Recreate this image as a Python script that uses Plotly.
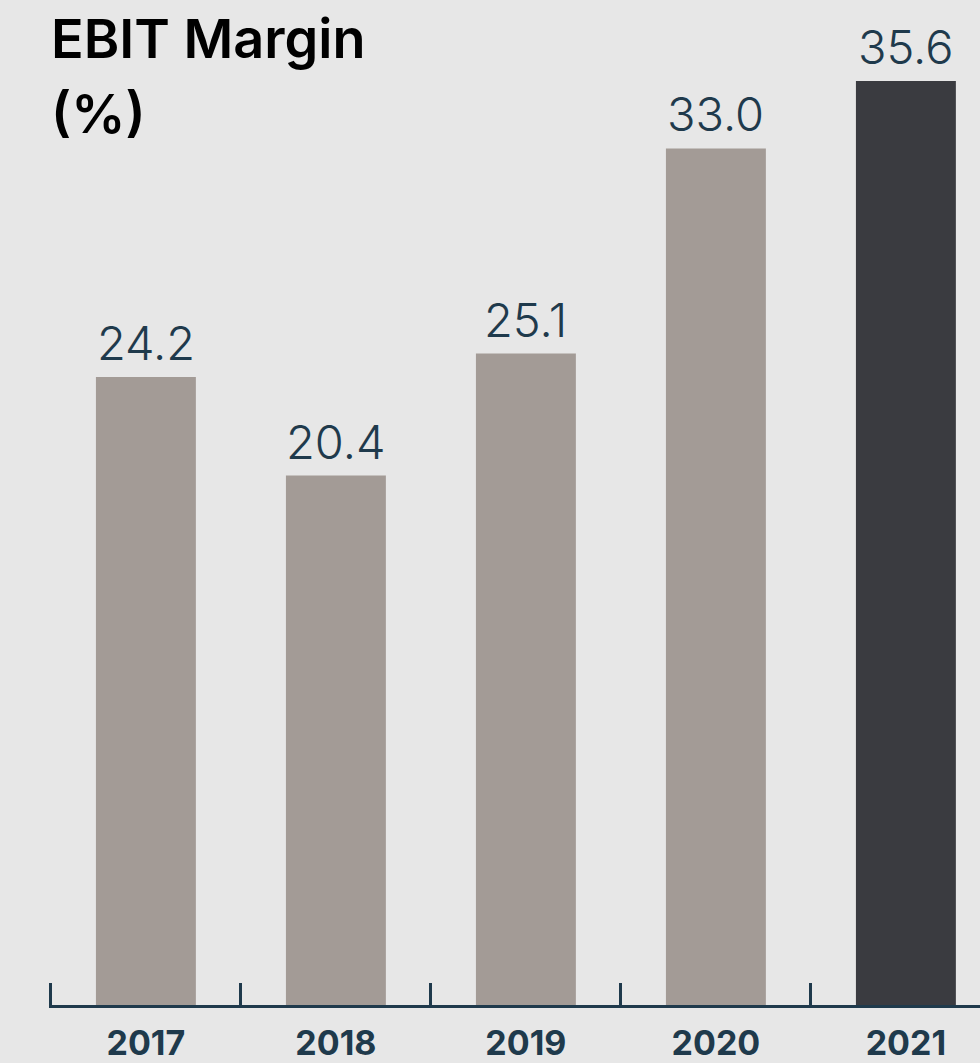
import plotly.graph_objects as go

# EBIT margin by fiscal year, in percent
years = ["2017", "2018", "2019", "2020", "2021"]
ebit_margin = [24.2, 20.4, 25.1, 33.0, 35.6]

BG = "#e7e7e7"
BAR = "#a39b96"
BAR_LATEST = "#3a3b40"
INK = "#1f3a4c"

colors = [BAR] * (len(years) - 1) + [BAR_LATEST]

fig = go.Figure()
fig.add_trace(go.Bar(
    x=years,
    y=ebit_margin,
    marker=dict(color=colors, line=dict(width=0)),
    hoverinfo="skip",
))

# value labels above each bar (category index used as x position)
for i, v in enumerate(ebit_margin):
    fig.add_annotation(
        x=i, y=v, xref="x", yref="y", text=f"{v:.1f}",
        showarrow=False, yanchor="bottom", yshift=4,
        font=dict(family="Inter, Roboto, sans-serif", size=47, color=INK, weight=300),
    )

# chart title, two lines
fig.add_annotation(
    xref="paper", yref="paper", x=0, y=1, xanchor="left", yanchor="top",
    text="EBIT Margin", align="left", showarrow=False, yshift=-4,
    font=dict(family="Inter, Roboto, sans-serif", size=54, color="#000000", weight=600),
)
fig.add_annotation(
    xref="paper", yref="paper", x=0, y=1, xanchor="left", yanchor="top",
    text="(%)", align="left", showarrow=False, yshift=-79,
    font=dict(family="Inter, Roboto, sans-serif", size=54, color="#000000", weight=600),
)

fig.update_layout(
    width=980, height=1063,
    paper_bgcolor=BG, plot_bgcolor=BG,
    margin=dict(l=49, r=0, t=0, b=56),
    bargap=0.474,
    showlegend=False,
    xaxis=dict(
        type="category",
        range=[-0.51, 4.39],
        showline=True, linewidth=3, linecolor=INK,
        ticks="inside", tickson="boundaries", ticklen=22, tickwidth=3, tickcolor=INK,
        tickfont=dict(family="Inter, Roboto, sans-serif", size=34, color=INK, weight=700),
        showgrid=False, zeroline=False,
        layer="below traces",
        ticklabelstandoff=6,
    ),
    yaxis=dict(
        range=[0, 38.72],
        visible=False, showgrid=False, zeroline=False,
    ),
)

fig.write_html("out.html")
